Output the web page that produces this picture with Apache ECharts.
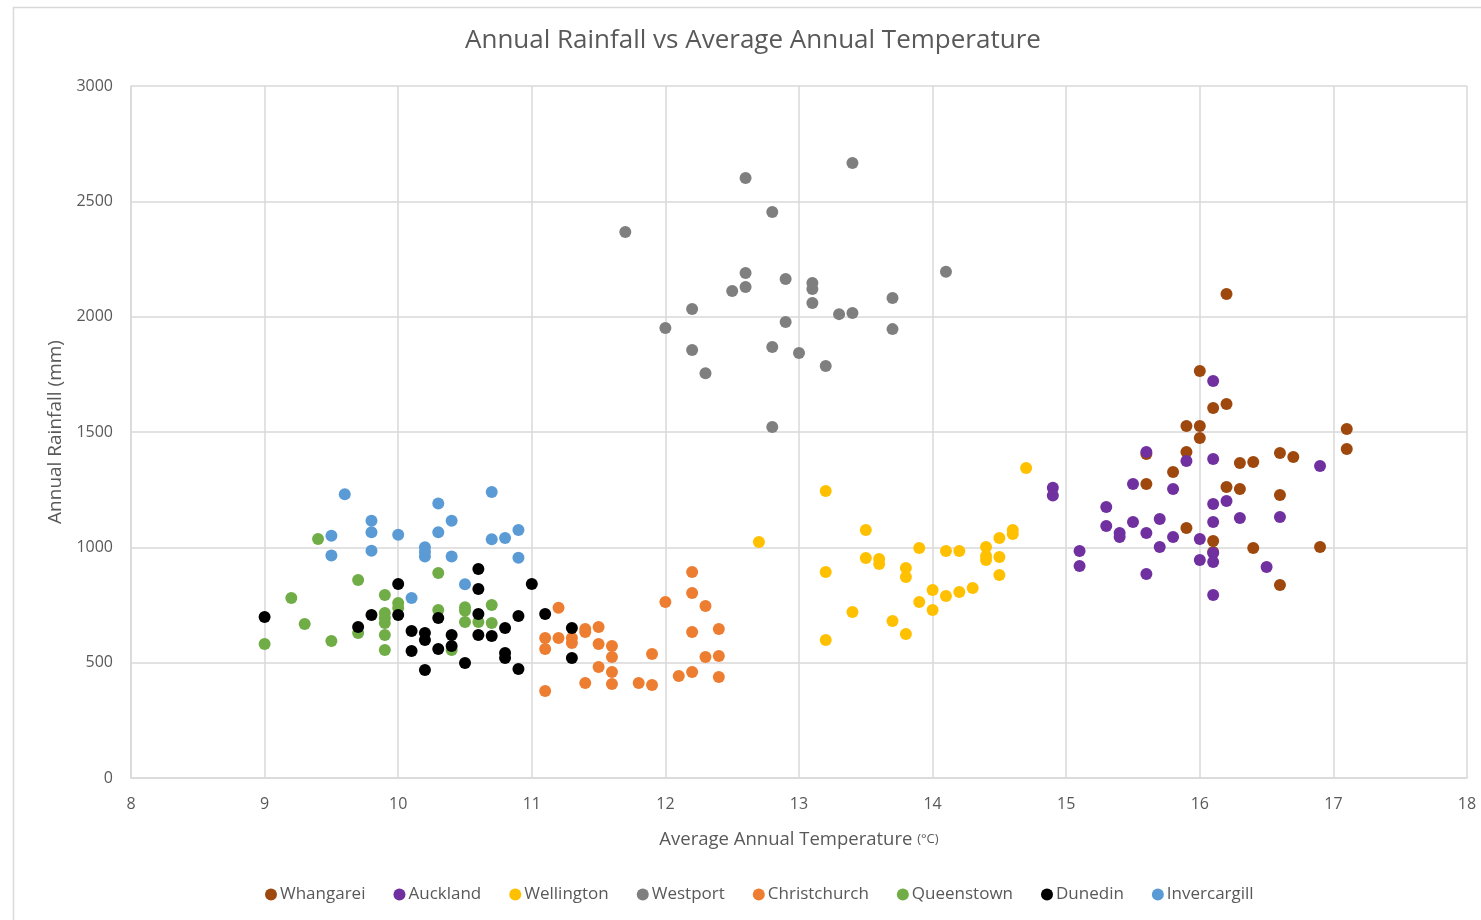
<!DOCTYPE html>
<html>
<head>
<meta charset="utf-8">
<title>Annual Rainfall vs Average Annual Temperature</title>
<script src="https://cdn.jsdelivr.net/npm/echarts@6/dist/echarts.min.js"></script>
<style>
  html, body { margin: 0; padding: 0; background: #ffffff; }
  #chart { width: 1481px; height: 920px; }
</style>
</head>
<body>
<div id="chart"></div>
<script>
// [temperature °C, rainfall mm] per city
const whangarei = [
  [16.2, 2098], [16.0, 1764], [16.1, 1604], [16.2, 1621], [15.9, 1526], [16.0, 1526],
  [16.0, 1474], [17.1, 1513], [17.1, 1426], [15.9, 1413], [15.6, 1405], [15.8, 1327],
  [16.3, 1366], [16.4, 1370], [16.6, 1409], [16.7, 1392], [16.2, 1262], [16.3, 1253],
  [16.6, 1227], [15.6, 1275], [15.9, 1084], [16.1, 1027], [16.1, 980], [16.4, 997],
  [16.9, 1001], [16.6, 837]
];
const auckland = [
  [14.9, 1258], [14.9, 1225], [15.1, 984], [15.1, 919], [15.3, 1175], [15.3, 1092],
  [15.4, 1062], [15.4, 1045], [15.5, 1275], [15.5, 1110], [15.6, 1413], [15.6, 1062],
  [15.6, 884], [15.7, 1123], [15.7, 1001], [15.8, 1253], [15.8, 1045], [15.9, 1374],
  [16.0, 1036], [16.0, 945], [16.1, 1721], [16.1, 1383], [16.1, 1188], [16.1, 1110],
  [16.1, 975], [16.1, 936], [16.1, 793], [16.2, 1201], [16.3, 1127], [16.5, 915],
  [16.6, 1131], [16.9, 1353]
];
const wellington = [
  [12.7, 1023], [13.2, 1244], [13.5, 1075], [13.2, 893], [13.2, 598], [13.4, 720],
  [13.5, 954], [13.6, 949], [13.6, 928], [13.7, 681], [13.8, 910], [13.8, 871],
  [13.8, 624], [13.9, 997], [13.9, 763], [14.0, 815], [14.0, 728], [14.1, 984],
  [14.1, 789], [14.2, 984], [14.2, 806], [14.3, 824], [14.4, 1001], [14.4, 962],
  [14.4, 945], [14.5, 1040], [14.5, 958], [14.5, 880], [14.6, 1075], [14.6, 1058],
  [14.7, 1344]
];
const westport = [
  [11.7, 2367], [12.6, 2601], [13.4, 2666], [12.8, 2454], [12.6, 2189], [12.6, 2129],
  [12.5, 2111], [12.9, 2163], [13.1, 2146], [13.1, 2120], [13.1, 2059], [13.7, 2081],
  [13.3, 2011], [13.4, 2016], [12.2, 2033], [12.0, 1951], [12.9, 1977], [13.7, 1946],
  [12.2, 1855], [12.8, 1868], [13.0, 1842], [13.2, 1786], [12.3, 1755], [12.8, 1522],
  [14.1, 2195]
];
const christchurch = [
  [11.2, 738], [11.1, 607], [11.1, 559], [11.1, 377], [11.2, 607], [11.3, 607],
  [11.3, 585], [11.4, 646], [11.4, 633], [11.4, 412], [11.5, 655], [11.5, 581],
  [11.5, 481], [11.6, 572], [11.6, 525], [11.6, 460], [11.6, 408], [11.8, 412],
  [11.9, 538], [11.9, 403], [12.0, 763], [12.1, 442], [12.2, 893], [12.2, 802],
  [12.2, 633], [12.2, 460], [12.3, 746], [12.3, 525], [12.4, 646], [12.4, 529],
  [12.4, 438]
];
const queenstown = [
  [9.0, 581], [9.2, 780], [9.3, 668], [9.4, 1036], [9.5, 594], [9.7, 858],
  [9.7, 629], [9.9, 793], [9.9, 715], [9.9, 694], [9.9, 672], [9.9, 620],
  [9.9, 555], [10.0, 759], [10.0, 737], [10.3, 889], [10.3, 728], [10.4, 555],
  [10.5, 740], [10.5, 725], [10.5, 676], [10.6, 676], [10.7, 750], [10.7, 672]
];
const dunedin = [
  [9.0, 698], [9.7, 655], [9.8, 707], [10.0, 841], [10.0, 707], [10.1, 637],
  [10.1, 551], [10.2, 629], [10.2, 598], [10.2, 468], [10.3, 694], [10.3, 559],
  [10.4, 620], [10.4, 572], [10.5, 499], [10.6, 906], [10.6, 819], [10.6, 711],
  [10.6, 620], [10.7, 616], [10.8, 650], [10.8, 542], [10.8, 520], [10.9, 702],
  [10.9, 473], [11.0, 841], [11.1, 711], [11.3, 650], [11.3, 520]
];
const invercargill = [
  [9.6, 1230], [10.3, 1190], [10.7, 1240], [9.8, 1115], [10.4, 1115], [9.8, 1065],
  [10.3, 1065], [9.5, 1050], [10.0, 1055], [10.7, 1035], [10.8, 1040], [10.9, 1075],
  [10.2, 1000], [10.2, 980], [10.2, 960], [9.5, 965], [9.8, 985], [10.4, 960],
  [10.9, 955], [10.5, 840], [10.1, 780]
];

const cityNames = ['Whangarei', 'Auckland', 'Wellington', 'Westport', 'Christchurch', 'Queenstown', 'Dunedin', 'Invercargill'];
const cityData = [whangarei, auckland, wellington, westport, christchurch, queenstown, dunedin, invercargill];
const cityColors = ['#9E480E', '#7030A0', '#FFC000', '#7F7F7F', '#ED7D31', '#70AD47', '#000000', '#5B9BD5'];

const FONT = '"Open Sans", "Liberation Sans", sans-serif';
const TEXT = '#595959';
const GRID = '#d9d9d9';

const chart = echarts.init(document.getElementById('chart'), null, { renderer: 'canvas' });

chart.setOption({
  backgroundColor: '#ffffff',
  animation: false,
  textStyle: { fontFamily: FONT },
  graphic: [{
    type: 'rect',
    left: 11, top: 5,
    shape: { width: 1500, height: 940 },
    style: { fill: 'none', stroke: '#d9d9d9', lineWidth: 1.5 },
    silent: true, z: -10
  }],
  title: {
    text: 'Annual Rainfall vs Average Annual Temperature',
    left: 460, top: 23,
    textStyle: { fontFamily: FONT, fontSize: 26, fontWeight: 'normal', color: TEXT }
  },
  legend: {
    bottom: 12, left: 260,
    icon: 'circle', itemWidth: 12, itemHeight: 12, itemGap: 28,
    textStyle: { fontFamily: FONT, fontSize: 17, color: TEXT, padding: [0, 0, 0, -2] },
    data: cityNames
  },
  grid: { left: 131, right: 14, top: 86, bottom: 142, containLabel: false },
  xAxis: {
    type: 'value', min: 8, max: 18, interval: 1,
    name: '{a|Average Annual Temperature }{b|(°C)}',
    nameLocation: 'middle', nameGap: 52,
    nameTextStyle: {
      rich: {
        a: { fontFamily: FONT, fontSize: 18.5, color: TEXT },
        b: { fontFamily: FONT, fontSize: 13, color: TEXT }
      }
    },
    axisLine: { show: true, lineStyle: { color: GRID, width: 1.5 } },
    axisTick: { show: false },
    axisLabel: { fontFamily: FONT, fontSize: 16, color: TEXT, margin: 18 },
    splitLine: { show: true, lineStyle: { color: GRID, width: 1.5 } }
  },
  yAxis: {
    type: 'value', min: 0, max: 3000, interval: 500,
    name: 'Annual Rainfall (mm)',
    nameLocation: 'middle', nameGap: 66, nameRotate: 90,
    nameTextStyle: { fontFamily: FONT, fontSize: 19, color: TEXT },
    axisLine: { show: true, lineStyle: { color: GRID, width: 1.5 } },
    axisTick: { show: false },
    axisLabel: { fontFamily: FONT, fontSize: 16, color: TEXT, margin: 18, formatter: v => String(v) },
    splitLine: { show: true, lineStyle: { color: GRID, width: 1.5 } }
  },
  series: cityNames.map((name, i) => ({
    name: name,
    type: 'scatter',
    data: cityData[i],
    symbol: 'circle',
    symbolSize: 12,
    itemStyle: { color: cityColors[i], opacity: 1 },
    emphasis: { disabled: true }
  }))
});
</script>
</body>
</html>
